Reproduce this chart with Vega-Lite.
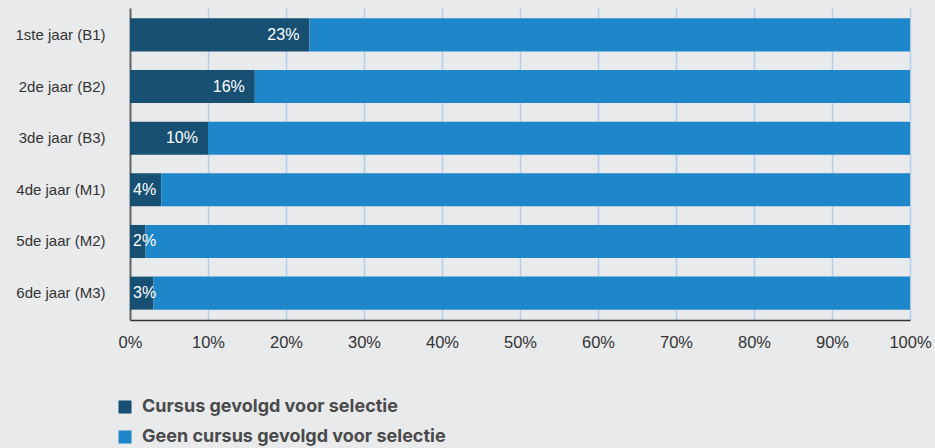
{
  "$schema": "https://vega.github.io/schema/vega-lite/v6.json",
  "autosize": "none",
  "width": 780,
  "height": 312,
  "padding": {"left": 130, "top": 8, "right": 25, "bottom": 128},
  "background": "#e9eaec",
  "config": {
    "view": {"stroke": null},
    "font": "Liberation Sans"
  },
  "data": {
    "values": [
      {"jaar": "1ste jaar (B1)", "cat": "Cursus gevolgd voor selectie", "pct": 23},
      {"jaar": "1ste jaar (B1)", "cat": "Geen cursus gevolgd voor selectie", "pct": 77},
      {"jaar": "2de jaar (B2)", "cat": "Cursus gevolgd voor selectie", "pct": 16},
      {"jaar": "2de jaar (B2)", "cat": "Geen cursus gevolgd voor selectie", "pct": 84},
      {"jaar": "3de jaar (B3)", "cat": "Cursus gevolgd voor selectie", "pct": 10},
      {"jaar": "3de jaar (B3)", "cat": "Geen cursus gevolgd voor selectie", "pct": 90},
      {"jaar": "4de jaar (M1)", "cat": "Cursus gevolgd voor selectie", "pct": 4},
      {"jaar": "4de jaar (M1)", "cat": "Geen cursus gevolgd voor selectie", "pct": 96},
      {"jaar": "5de jaar (M2)", "cat": "Cursus gevolgd voor selectie", "pct": 2},
      {"jaar": "5de jaar (M2)", "cat": "Geen cursus gevolgd voor selectie", "pct": 98},
      {"jaar": "6de jaar (M3)", "cat": "Cursus gevolgd voor selectie", "pct": 3},
      {"jaar": "6de jaar (M3)", "cat": "Geen cursus gevolgd voor selectie", "pct": 97}
    ]
  },
  "encoding": {
    "y": {
      "field": "jaar", "type": "nominal", "title": null,
      "scale": {"paddingInner": 0.36, "paddingOuter": 0.2},
      "axis": {
        "ticks": false, "labelPadding": 25, "labelFontSize": 15, "labelColor": "#333333",
        "domainColor": "#666666", "domainWidth": 2
      }
    }
  },
  "layer": [
    {
      "mark": {"type": "bar"},
      "encoding": {
        "x": {
          "field": "pct", "type": "quantitative", "stack": true, "title": null,
          "scale": {"domain": [0, 100], "nice": false},
          "axis": {
            "values": [0, 10, 20, 30, 40, 50, 60, 70, 80, 90, 100],
            "labelExpr": "datum.value + '%'",
            "ticks": false, "labelPadding": 14, "labelFontSize": 16.5, "labelColor": "#333333",
            "domainColor": "#333333", "domainWidth": 1.5,
            "grid": true, "gridColor": "#b5cdea", "gridWidth": 1.5,
            "labelFlush": false
          }
        },
        "color": {
          "field": "cat", "type": "nominal", "title": null,
          "scale": {
            "domain": ["Cursus gevolgd voor selectie", "Geen cursus gevolgd voor selectie"],
            "range": ["#185073", "#1e87c9"]
          },
          "legend": {
            "orient": "none", "legendX": -14, "legendY": 390,
            "symbolType": "square", "symbolSize": 170, "symbolStrokeWidth": 0,
            "labelFont": "Inter", "labelFontSize": 18, "labelFontWeight": "bold", "labelColor": "#4a4a4a",
            "rowPadding": 12, "labelOffset": 8, "labelLimit": 500
          }
        },
        "order": {"field": "cat", "sort": "ascending"}
      }
    },
    {
      "transform": [
        {"filter": "datum.cat == 'Cursus gevolgd voor selectie' && datum.pct >= 10"},
        {"calculate": "datum.pct + '%'", "as": "label"}
      ],
      "mark": {"type": "text", "align": "right", "dx": -10, "color": "white", "fontSize": 16},
      "encoding": {
        "x": {"field": "pct", "type": "quantitative"},
        "text": {"field": "label", "type": "nominal"}
      }
    },
    {
      "transform": [
        {"filter": "datum.cat == 'Cursus gevolgd voor selectie' && datum.pct < 10"},
        {"calculate": "datum.pct + '%'", "as": "label"}
      ],
      "mark": {"type": "text", "align": "left", "dx": 3, "color": "white", "fontSize": 16},
      "encoding": {
        "x": {"datum": 0},
        "text": {"field": "label", "type": "nominal"}
      }
    }
  ]
}
